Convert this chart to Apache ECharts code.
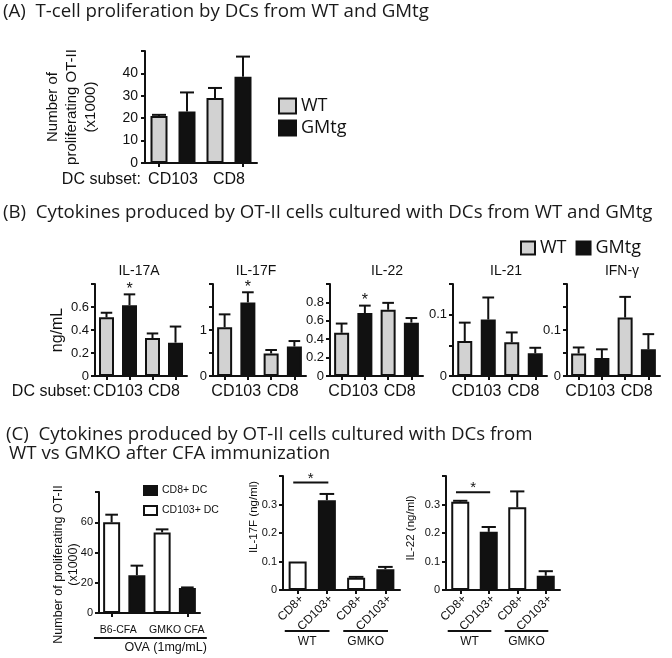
<!DOCTYPE html>
<html>
<head>
<meta charset="utf-8">
<script src="https://cdn.jsdelivr.net/npm/echarts@6/dist/echarts.min.js"></script>
<style>
html,body{margin:0;padding:0;background:#fff;}
#chart{width:672px;height:658px;}
</style>
</head>
<body>
<div id="chart"></div>
<script>
// ---------------- data ----------------
// Panel A: number of proliferating OT-II (x1000)
const aGroups = ['CD103', 'CD8'];
const aWT = [21, 29];
const aWTErr = [0.5, 4.5];
const aGMtg = [23, 38.5];
const aGMtgErr = [8.5, 9];

// Panel B: cytokines (ng/mL)
const bGroups = ['CD103', 'CD8'];
const bTitles = ['IL-17A', 'IL-17F', 'IL-22', 'IL-21', 'IFN-γ'];
const il17aWT = [0.51, 0.33],  il17aWTErr = [0.04, 0.04];
const il17aGM = [0.615, 0.29], il17aGMErr = [0.095, 0.14];
const il17fWT = [1.06, 0.49],  il17fWTErr = [0.28, 0.075];
const il17fGM = [1.6, 0.64],   il17fGMErr = [0.22, 0.12];
const il22WT = [0.47, 0.72],   il22WTErr = [0.1, 0.075];
const il22GM = [0.685, 0.58],  il22GMErr = [0.08, 0.05];
const il21WT = [0.057, 0.055], il21WTErr = [0.03, 0.016];
const il21GM = [0.092, 0.037], il21GMErr = [0.036, 0.009];
const ifngWT = [0.049, 0.127], ifngWTErr = [0.013, 0.045];
const ifngGM = [0.039, 0.058], ifngGMErr = [0.019, 0.033];
const bStarsGM = [[1, 0], [1, 0], [1, 0], [0, 0], [0, 0]];

// Panel C
const c1Groups = ['B6-CFA', 'GMKO CFA'];
const c1CD103 = [60, 53.3], c1CD103Err = [5, 2];
const c1CD8 = [25, 16.5],   c1CD8Err = [6.3, 0.4];
const cGroups = ['WT', 'GMKO'];
const c17fCD8 = [0.1, 0.043],     c17fCD8Err = [0, 0.003];
const c17fCD103 = [0.315, 0.073], c17fCD103Err = [0.022, 0.008];
const c22CD8 = [0.31, 0.29],      c22CD8Err = [0.003, 0.056];
const c22CD103 = [0.204, 0.05],   c22CD103Err = [0.017, 0.016];
const c17fSig = [0, 1, 0.377];
const c22Sig = [0, 1, 0.343];

// ---------------- style ----------------
const INK = '#111';
const GRAY = '#d2d2d2';
const WHITE = '#ffffff';
const AX = "'Liberation Sans', Arial, sans-serif";
const TF = "'Open Sans', sans-serif";

const panels = [];
// A
panels.push({
  grid: {left: 145, top: 51, width: 112, height: 112},
  groups: aGroups,
  s1: {name: 'WT', vals: aWT, err: aWTErr, color: GRAY},
  s2: {name: 'GMtg', vals: aGMtg, err: aGMtgErr, color: INK},
  yMax: 50, yInt: 10, yLabels: [0, 10, 20, 30, 40], yFont: 14, yMargin: 7,
  yName: 'Number of\nproliferating OT-II\n(x1000)', yNameGap: 45, yNameSize: 15, yNameLH: 19,
  barW: 17, capFrac: 0.5, tickIdx: [0, 3],
  groupLabels: {size: 16, margin: 9}, subsetLabel: true
});
// B
const bLefts = [95, 213, 330, 453, 567];
const bWidths = [92, 93, 93, 94, 93];
const bData = [
  [il17aWT, il17aWTErr, il17aGM, il17aGMErr, 0.8, 0.2, [0, 0.2, 0.4, 0.6]],
  [il17fWT, il17fWTErr, il17fGM, il17fGMErr, 2, 0.5, [0, 1]],
  [il22WT, il22WTErr, il22GM, il22GMErr, 1.0, 0.2, [0, 0.2, 0.4, 0.6, 0.8]],
  [il21WT, il21WTErr, il21GM, il21GMErr, 0.15, 0.05, [0, 0.1]],
  [ifngWT, ifngWTErr, ifngGM, ifngGMErr, 0.2, 0.05, [0, 0.1]]
];
bData.forEach((d, k) => {
  panels.push({
    grid: {left: bLefts[k], top: 284, width: bWidths[k], height: 92},
    groups: bGroups,
    s1: {name: 'WT', vals: d[0], err: d[1], color: GRAY},
    s2: {name: 'GMtg', vals: d[2], err: d[3], color: INK},
    stars: bStarsGM[k],
    yMax: d[4], yInt: d[5], yLabels: d[6], yFont: 13, yMargin: 6,
    yName: k === 0 ? 'ng/mL' : '', yNameGap: 27, yNameSize: 16, yNameLH: 18,
    barW: 15, capFrac: 0.5, tickIdx: null,
    groupLabels: {size: 16, margin: 8}, subsetLabel: k === 0
  });
});
// C1
panels.push({
  grid: {left: 99, top: 492, width: 101, height: 121},
  groups: c1Groups,
  s1: {name: 'CD103+ DC', vals: c1CD103, err: c1CD103Err, color: WHITE},
  s2: {name: 'CD8+ DC', vals: c1CD8, err: c1CD8Err, color: INK},
  yMax: 80, yInt: 20, yLabels: [0, 20, 40, 60], yFont: 11, yMargin: 6,
  gName: {text: 'Number of proliferating OT-II\n(x1000)', dx: -33, dy: 12, size: 12.5, lh: 15},
  barW: 17, capFrac: 0.5, tickIdx: [0, 3],
  groupLabels: {size: 10.5, margin: 12, shift: [-6, 2]},
  under: {spans: [[0, 3, 0]], texts: ['OVA (1mg/mL)'], extL: 0.7, extR: 0.77, dy: 25, textDy: 10, align: 'right', size: 12.5}
});
// C2 / C3
[[283, 117, c17fCD8, c17fCD8Err, c17fCD103, c17fCD103Err, c17fSig, 'IL-17F (ng/ml)', -29, -16],
 [446, 114, c22CD8, c22CD8Err, c22CD103, c22CD103Err, c22Sig, 'IL-22 (ng/ml)', -35, -5]].forEach(d => {
  panels.push({
    grid: {left: d[0], top: 476, width: d[1], height: 114},
    groups: cGroups,
    s1: {name: d[7] + ' CD8+', label: 'CD8+', vals: d[2], err: d[3], color: WHITE},
    s2: {name: d[7] + ' CD103+', label: 'CD103+', vals: d[4], err: d[5], color: INK},
    yMax: 0.4, yInt: 0.1, yLabels: [0, 0.1, 0.2, 0.3], yFont: 11, yMargin: 6,
    gName: {text: d[7], dx: d[8], dy: d[9], size: 11.5, lh: 14},
    barW: 18, capFrac: 0.5, tickIdx: null, rotLabels: true,
    sig: d[6],
    under: {spans: [[0, 1, 0], [2, 3, 0]], texts: cGroups, extL: 0.44, extR: 0.09, dy: 41, textDy: 11, align: 'center', size: 12}
  });
});

// ---------------- build ----------------
function errRender(p) {
  return function (params, api) {
    const x = api.value(0), v = api.value(1), e = api.value(2), st = api.value(3);
    const base = api.coord([x, v]);
    const top = api.coord([x, v + e]);
    const band = api.size([1, 0])[0];
    const cap = band * p.capFrac;
    const ch = [];
    if (e > 0) {
      ch.push({type: 'line', shape: {x1: base[0], y1: base[1], x2: top[0], y2: top[1]}, style: {stroke: INK, lineWidth: 2}});
      ch.push({type: 'line', shape: {x1: top[0] - cap / 2, y1: top[1], x2: top[0] + cap / 2, y2: top[1]}, style: {stroke: INK, lineWidth: 2}});
    }
    if (st) {
      ch.push({type: 'text', style: {text: '*', x: top[0], y: top[1] - 5, align: 'center', verticalAlign: 'middle', fontFamily: AX, fontSize: 16, fill: INK}});
    }
    return {type: 'group', children: ch};
  };
}

const option = {
  animation: false,
  backgroundColor: '#fff',
  grid: [], xAxis: [], yAxis: [], series: [], graphic: [],
  legend: [
    {data: ['WT', 'GMtg'], orient: 'vertical', left: 273, top: 92, icon: 'rect', itemWidth: 17, itemHeight: 15, itemGap: 4, selectedMode: false,
     textStyle: {fontFamily: TF, fontSize: 18, color: INK}},
    {data: ['WT', 'GMtg'], orient: 'horizontal', left: 515, top: 234, icon: 'rect', itemWidth: 14, itemHeight: 13, itemGap: 9, selectedMode: false,
     textStyle: {fontFamily: TF, fontSize: 18, color: INK}},
    {data: ['CD8+ DC', 'CD103+ DC'], orient: 'vertical', left: 138, top: 480, icon: 'rect', itemWidth: 13, itemHeight: 9, itemGap: 9, selectedMode: false,
     textStyle: {fontFamily: AX, fontSize: 10.5, color: INK}}
  ]
};

panels.forEach((p, i) => {
  option.grid.push({left: p.grid.left, top: p.grid.top, width: p.grid.width, height: p.grid.height});
  const slots = [], s1d = [], s2d = [], errd = [];
  p.groups.forEach((g, gi) => {
    slots.push(g + '|' + (p.s1.label || p.s1.name));
    slots.push(g + '|' + (p.s2.label || p.s2.name));
    s1d.push(p.s1.vals[gi], '-');
    s2d.push('-', p.s2.vals[gi]);
    errd.push([gi * 2, p.s1.vals[gi], p.s1.err[gi], 0]);
    errd.push([gi * 2 + 1, p.s2.vals[gi], p.s2.err[gi], p.stars && p.stars[gi] ? 1 : 0]);
  });
  const xi = option.xAxis.length;
  option.xAxis.push({
    type: 'category', gridIndex: i, data: slots, position: 'bottom',
    axisLine: {show: true, onZero: false, lineStyle: {color: INK, width: 2}},
    axisTick: {show: true, alignWithLabel: true, length: 4, lineStyle: {color: INK, width: 2},
      interval: p.tickIdx ? ((idx) => p.tickIdx.indexOf(idx) >= 0) : 0},
    axisLabel: p.rotLabels
      ? {show: true, interval: 0, rotate: 45, margin: 3, align: 'right', verticalAlign: 'top', fontFamily: AX, fontSize: 12, color: INK,
         formatter: (v) => v.split('|')[1]}
      : {show: false},
    splitLine: {show: false}
  });
  const gl = p.groupLabels;
  const rich = {};
  if (gl && gl.shift) {
    gl.shift.forEach((s, k) => {
      rich['g' + k] = {fontFamily: AX, fontSize: gl.size, color: INK,
        padding: s < 0 ? [0, -2 * s, 0, 0] : [0, 0, 0, 2 * s]};
    });
  }
  option.xAxis.push({
    type: 'category', gridIndex: i, data: p.groups, position: 'bottom',
    axisLine: {show: false}, axisTick: {show: false}, splitLine: {show: false},
    axisLabel: gl
      ? {show: true, interval: 0, margin: gl.margin, fontFamily: AX, fontSize: gl.size, color: INK, rich: rich,
         formatter: gl.shift ? ((v, idx) => '{g' + idx + '|' + v + '}') : '{value}'}
      : {show: false}
  });
  option.yAxis.push({
    type: 'value', gridIndex: i, min: 0, max: p.yMax, interval: p.yInt,
    axisLine: {show: true, lineStyle: {color: INK, width: 2}},
    axisTick: {show: true, length: 4, lineStyle: {color: INK, width: 2}},
    splitLine: {show: false},
    axisLabel: {show: true, margin: p.yMargin, fontFamily: AX, fontSize: p.yFont, color: INK,
      formatter: (v) => p.yLabels.some((l) => Math.abs(l - v) < 1e-9) ? String(+v.toFixed(3)) : ''},
    name: p.yName || '', nameLocation: 'middle', nameGap: p.yNameGap || 20, nameRotate: 90,
    nameTextStyle: {fontFamily: AX, fontSize: p.yNameSize || 12, color: INK, lineHeight: p.yNameLH || 14}
  });
  if (p.gName) {
    option.graphic.push({type: 'text', x: p.grid.left + p.gName.dx, y: p.grid.top + p.grid.height / 2 + p.gName.dy, rotation: Math.PI / 2,
      style: {text: p.gName.text, align: 'center', verticalAlign: 'middle', fontFamily: AX, fontSize: p.gName.size, lineHeight: p.gName.lh, fill: INK}});
  }
  const common = {type: 'bar', xAxisIndex: xi, yAxisIndex: i, barWidth: p.barW, barGap: '-100%', z: 2, silent: true};
  option.series.push(Object.assign({}, common, {name: p.s1.name, data: s1d,
    itemStyle: {color: p.s1.color, borderColor: INK, borderWidth: 2}}));
  option.series.push(Object.assign({}, common, {name: p.s2.name, data: s2d,
    itemStyle: {color: p.s2.color, borderColor: INK, borderWidth: 2}}));
  option.series.push({type: 'custom', xAxisIndex: xi, yAxisIndex: i, data: errd, encode: {x: 0, y: 1}, z: 4, clip: false, silent: true,
    renderItem: errRender(p)});
  if (p.sig) {
    option.series.push({type: 'custom', xAxisIndex: xi, yAxisIndex: i, data: [p.sig], encode: {x: [0, 1], y: 2}, z: 4, clip: false, silent: true,
      renderItem: (params, api) => {
        const a = api.coord([api.value(0), api.value(2)]);
        const b = api.coord([api.value(1), api.value(2)]);
        const band = api.size([1, 0])[0];
        const x0 = a[0] - 0.15 * band, x1 = b[0] + 0.05 * band;
        return {type: 'group', children: [
          {type: 'line', shape: {x1: x0, y1: a[1], x2: x1, y2: a[1]}, style: {stroke: INK, lineWidth: 2}},
          {type: 'text', style: {text: '*', x: (x0 + x1) / 2, y: a[1] - 4, align: 'center', verticalAlign: 'middle', fontFamily: AX, fontSize: 15, fill: INK}}
        ]};
      }});
  }
  if (p.under) {
    const u = p.under;
    option.series.push({type: 'custom', xAxisIndex: xi, yAxisIndex: i, data: u.spans, encode: {x: [0, 1], y: 2}, z: 4, clip: false, silent: true,
      renderItem: (params, api) => {
        const a = api.coord([api.value(0), 0]);
        const b = api.coord([api.value(1), 0]);
        const band = api.size([1, 0])[0];
        const x0 = a[0] - u.extL * band, x1 = b[0] + u.extR * band, y = a[1] + u.dy;
        const tx = u.align === 'right' ? x1 : (x0 + x1) / 2;
        return {type: 'group', children: [
          {type: 'line', shape: {x1: x0, y1: y, x2: x1, y2: y}, style: {stroke: INK, lineWidth: 2}},
          {type: 'text', style: {text: u.texts[params.dataIndex], x: tx, y: y + u.textDy, align: u.align, verticalAlign: 'middle',
            fontFamily: AX, fontSize: u.size, fill: INK}}
        ]};
      }});
  }
  if (p.subsetLabel) {
    option.graphic.push({type: 'text', x: p.grid.left - 4, y: p.grid.top + p.grid.height + p.groupLabels.margin + 8,
      style: {text: 'DC subset:', align: 'right', verticalAlign: 'middle', fontFamily: AX, fontSize: 16, fill: INK}});
  }
});

// Titles
const titleStyle = {fontFamily: TF, fontSize: 18.7, fill: '#1a1a1a', verticalAlign: 'middle', align: 'left'};
option.graphic.push({type: 'text', x: 3, y: 12, style: Object.assign({text: '(A)  T-cell proliferation by DCs from WT and GMtg'}, titleStyle)});
option.graphic.push({type: 'text', x: 3, y: 213, style: Object.assign({text: '(B)  Cytokines produced by OT-II cells cultured with DCs from WT and GMtg'}, titleStyle)});
option.graphic.push({type: 'text', x: 6, y: 435, style: Object.assign({text: '(C)  Cytokines produced by OT-II cells cultured with DCs from'}, titleStyle)});
option.graphic.push({type: 'text', x: 9, y: 454, style: Object.assign({text: 'WT vs GMKO after CFA immunization'}, titleStyle)});
// Panel B sub-titles
const bTitleX = [139, 256, 387, 506, 622];
bTitles.forEach((t, k) => {
  option.graphic.push({type: 'text', x: bTitleX[k], y: 271.5,
    style: {text: t, align: 'center', verticalAlign: 'middle', fontFamily: AX, fontSize: 14, fill: INK}});
});

const chart = echarts.init(document.getElementById('chart'), null, {renderer: 'canvas'});
chart.setOption(option);
</script>
</body>
</html>
